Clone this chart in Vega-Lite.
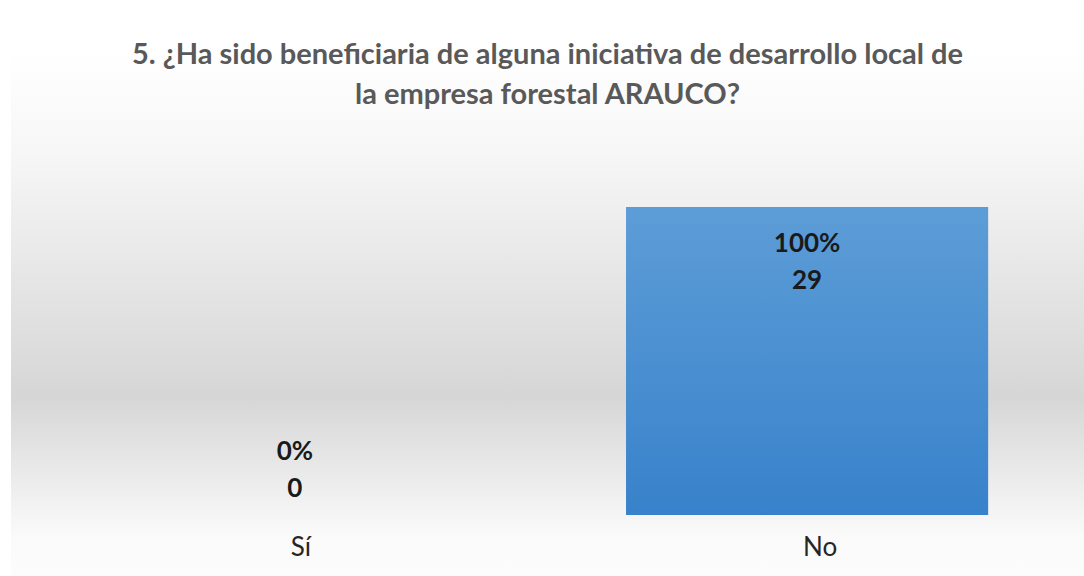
{
  "$schema": "https://vega.github.io/schema/vega-lite/v6.json",
  "width": 1073,
  "height": 563,
  "autosize": {"type": "none"},
  "padding": {"left": 11, "top": 13, "right": 0, "bottom": 0},
  "background": "#ffffff",
  "config": {
    "view": {
      "stroke": null,
      "fill": {
        "gradient": "linear", "x1": 0, "y1": 0, "x2": 0, "y2": 1,
        "stops": [
          {"offset": 0, "color": "#ffffff"},
          {"offset": 0.062, "color": "#ffffff"},
          {"offset": 0.243, "color": "#f7f7f7"},
          {"offset": 0.682, "color": "#d6d6d6"},
          {"offset": 0.927, "color": "#fafafa"},
          {"offset": 1, "color": "#fcfcfc"}
        ]
      }
    },
    "axis": {"grid": false}
  },
  "title": {
    "text": ["5. ¿Ha sido beneficiaria de alguna iniciativa de desarrollo local de", "la empresa forestal ARAUCO?"],
    "font": "Lato",
    "fontSize": 29,
    "fontWeight": "bold",
    "color": "#595959",
    "lineHeight": 40,
    "offset": -97,
    "anchor": "middle"
  },
  "data": {
    "values": [
      {"respuesta": "Sí", "frecuencia": 0, "etiqueta": ["0%", "0"]},
      {"respuesta": "No", "frecuencia": 29, "etiqueta": ["100%", "29"]}
    ]
  },
  "encoding": {
    "x": {
      "field": "respuesta",
      "type": "nominal",
      "sort": null,
      "scale": {"paddingInner": 0.3025, "paddingOuter": 0.1846},
      "axis": {
        "title": null,
        "domain": false,
        "ticks": false,
        "offset": -46,
        "labelAngle": 0,
        "labelFont": "Lato",
        "labelFontSize": 26,
        "labelColor": "#262626",
        "labelPadding": 4,
        "labelOffset": 13
      }
    },
    "y": {
      "field": "frecuencia",
      "type": "quantitative",
      "scale": {"domain": [-5.743, 47.266], "nice": false, "zero": false},
      "axis": null
    }
  },
  "layer": [
    {
      "mark": {
        "type": "bar",
        "color": {
          "gradient": "linear", "x1": 0, "y1": 0, "x2": 0, "y2": 1,
          "stops": [
            {"offset": 0, "color": "#5d9dd7"},
            {"offset": 1, "color": "#3882cb"}
          ]
        }
      },
      "encoding": {"y2": {"datum": 0}}
    },
    {
      "transform": [{"filter": "datum.frecuencia > 0"}],
      "mark": {"type": "text", "baseline": "middle", "dy": 37, "font": "Lato", "fontSize": 26, "fontWeight": "bold", "color": "#1a1a1a", "lineHeight": 37},
      "encoding": {"text": {"field": "etiqueta"}}
    },
    {
      "transform": [{"filter": "datum.frecuencia <= 0"}],
      "mark": {"type": "text", "baseline": "middle", "dx": 7, "dy": -63, "font": "Lato", "fontSize": 26, "fontWeight": "bold", "color": "#1a1a1a", "lineHeight": 37},
      "encoding": {"text": {"field": "etiqueta"}}
    }
  ]
}
